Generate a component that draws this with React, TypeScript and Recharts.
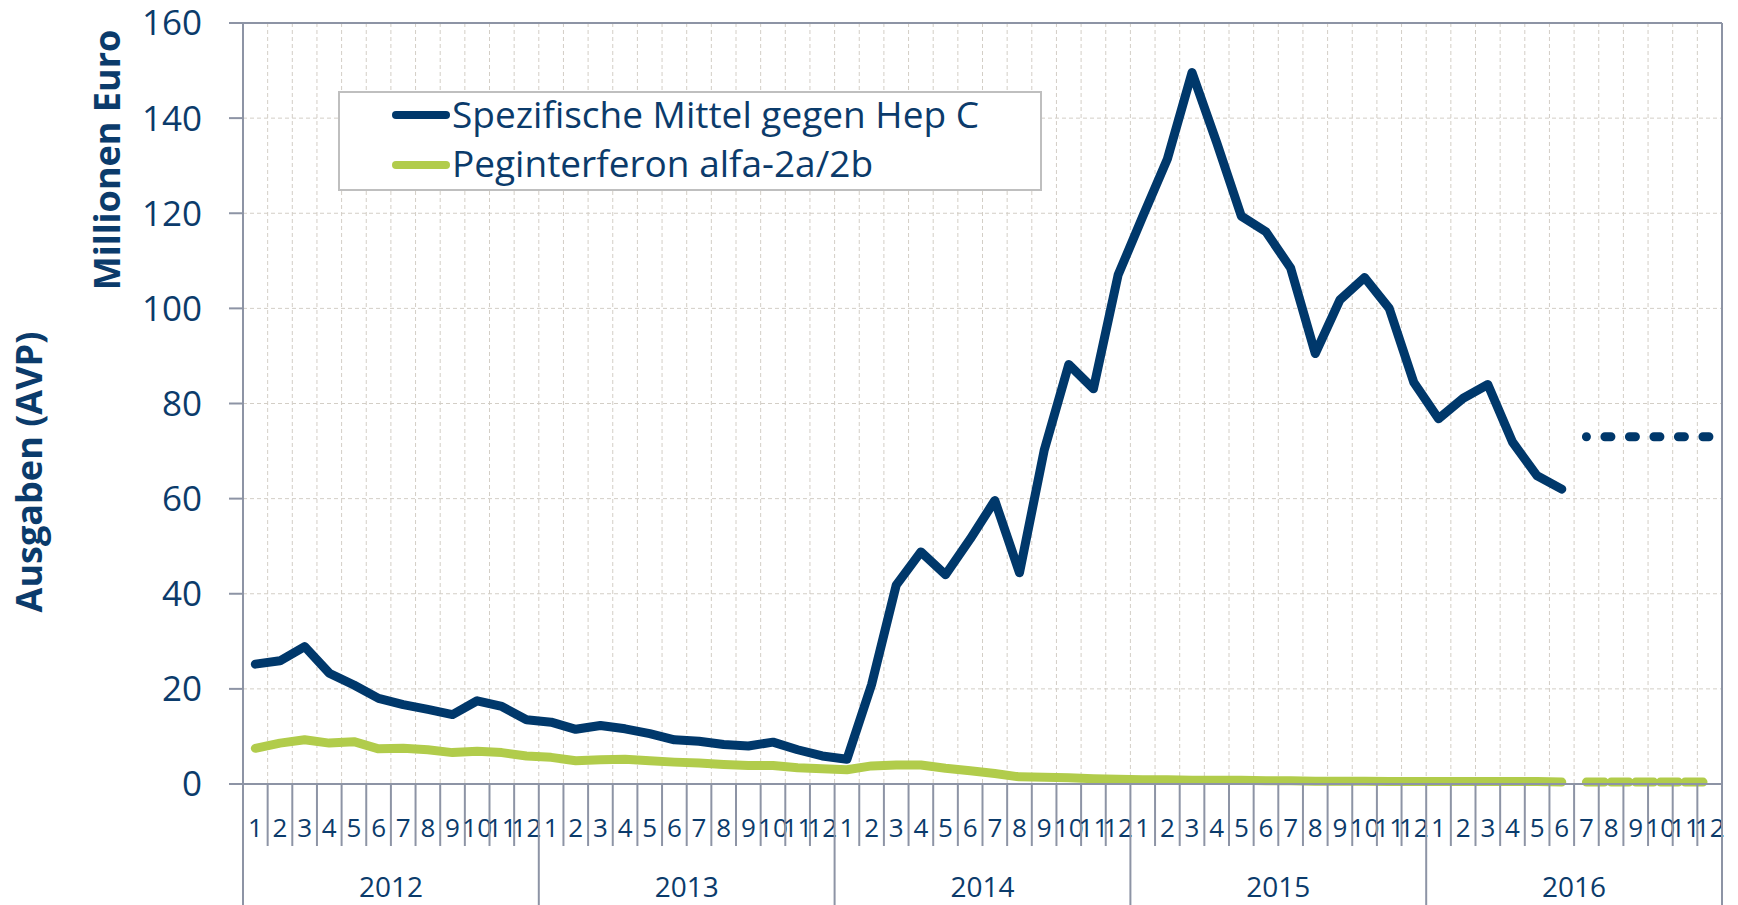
import React from 'react';
import {
  LineChart,
  Line,
  XAxis,
  YAxis,
  CartesianGrid,
  Legend,
  ReferenceLine,
} from 'recharts';

// Monatliche Ausgaben in Mio. Euro (AVP), Jan 2012 – Jun 2016
const years = ['2012', '2013', '2014', '2015', '2016'];
const monthLabels = ['1', '2', '3', '4', '5', '6', '7', '8', '9', '10', '11', '12'];

const hepC = [
  25.2, 25.9, 28.9, 23.3, 20.8, 18.0, 16.7, 15.7, 14.6, 17.5, 16.3, 13.5,
  13.0, 11.5, 12.3, 11.6, 10.6, 9.3, 9.0, 8.3, 8.0, 8.8, 7.2, 5.9,
  5.2, 20.9, 41.8, 48.8, 44.0, 51.5, 59.6, 44.4, 70.1, 88.2, 83.1, 107.0,
  119.3, 131.4, 149.6, 134.9, 119.4, 116.1, 108.5, 90.5, 101.8, 106.5, 100.0, 84.4,
  76.8, 81.1, 84.0, 71.9, 64.8, 62.0,
];
const peginterferon = [
  7.5, 8.6, 9.3, 8.6, 8.9, 7.4, 7.5, 7.2, 6.6, 6.9, 6.6, 5.9,
  5.6, 4.9, 5.1, 5.2, 4.9, 4.6, 4.4, 4.1, 3.9, 3.9, 3.4, 3.2,
  3.0, 3.8, 4.0, 4.0, 3.3, 2.8, 2.2, 1.5, 1.4, 1.3, 1.1, 1.0,
  0.9, 0.9, 0.8, 0.8, 0.8, 0.7, 0.7, 0.6, 0.6, 0.6, 0.5, 0.5,
  0.5, 0.5, 0.5, 0.5, 0.5, 0.4,
];
// Hochrechnung Jul – Dez 2016
const hepCOutlook = [73.0, 73.0, 73.0, 73.0, 73.0, 73.0];
const pegOutlook = [0.4, 0.4, 0.4, 0.4, 0.4, 0.4];

const seriesNames = ['Spezifische Mittel gegen Hep C', 'Peginterferon alfa-2a/2b'];
const yTicks = [0, 20, 40, 60, 80, 100, 120, 140, 160];

const NAVY = '#00386B';
const TEXT = '#0B3B6B';
const GREEN = '#B1CC4B';
const AXIS = '#8D94A5';
const GRID = '#D3CEC6';

const monthCount = years.length * 12;
const data = Array.from({ length: monthCount }, (_, i) => ({
  x: i + 0.5,
  hepC: i < hepC.length ? hepC[i] : null,
  peg: i < peginterferon.length ? peginterferon[i] : null,
  hepCOutlook: i >= hepC.length ? hepCOutlook[i - hepC.length] : null,
  pegOutlook: i >= peginterferon.length ? pegOutlook[i - peginterferon.length] : null,
}));

const boundaryTicks = Array.from({ length: monthCount + 1 }, (_, i) => i);
const axisTicks = Array.from({ length: monthCount * 2 + 1 }, (_, i) => i / 2);

function MonthTick(props: any) {
  const { x, y, payload } = props;
  const v = payload.value as number;
  if (Number.isInteger(v)) {
    const yearEdge = v % 12 === 0;
    return (
      <g>
        <line x1={x} x2={x} y1={y} y2={y + (yearEdge ? 121 : 62)} stroke={AXIS} strokeWidth={2} />
        {v % 12 === 6 && (
          <text x={x} y={y + 113} textAnchor="middle" fontSize={28} fill={TEXT}>
            {years[(v - 6) / 12]}
          </text>
        )}
      </g>
    );
  }
  return (
    <text x={x} y={y + 53} textAnchor="middle" fontSize={26} fill={TEXT}>
      {monthLabels[Math.floor(v) % 12]}
    </text>
  );
}

function YTitle() {
  return (
    <g>
      <text
        transform="translate(29, 472) rotate(-90)"
        textAnchor="middle"
        dy="0.36em"
        fontSize={36}
        fontWeight={700}
        fill={TEXT}
      >
        Ausgaben (AVP)
      </text>
      <text
        transform="translate(107, 160) rotate(-90)"
        textAnchor="middle"
        dy="0.36em"
        fontSize={36}
        fontWeight={700}
        fill={TEXT}
      >
        Millionen Euro
      </text>
    </g>
  );
}

function LegendBox(props: any) {
  const items = (props.payload || [])
    .filter((p: any) => p.type !== 'none' && seriesNames.includes(p.value))
    .sort((a: any, b: any) => seriesNames.indexOf(a.value) - seriesNames.indexOf(b.value));
  return (
    <svg width={704} height={100} style={{ display: 'block' }}>
      <rect x={1} y={1} width={702} height={98} fill="#fff" stroke="#BFBFBF" strokeWidth={2} />
      {items.map((p: any, i: number) => (
        <g key={p.value}>
          <line
            x1={58}
            x2={108}
            y1={24 + i * 50}
            y2={24 + i * 50}
            stroke={p.color}
            strokeWidth={8}
            strokeLinecap="round"
          />
          <text x={114} y={37 + i * 49} fontSize={37} fill={TEXT}>
            {p.value}
          </text>
        </g>
      ))}
    </svg>
  );
}

export default function App() {
  return (
    <div
      style={{
        position: 'absolute',
        left: 0,
        top: 0,
        width: 1738,
        height: 905,
        background: '#fff',
        fontFamily: "'Open Sans', sans-serif",
      }}
    >
      <LineChart width={1738} height={905} data={data} margin={{ top: 23, right: 16, bottom: 0, left: 0 }}>
        <XAxis
          xAxisId="g"
          orientation="top"
          dataKey="x"
          type="number"
          domain={[0, monthCount]}
          ticks={boundaryTicks}
          interval={0}
          height={0}
          hide
        />
        <CartesianGrid xAxisId="g" stroke={GRID} strokeDasharray="4 3" strokeWidth={1} />
        <XAxis
          xAxisId="m"
          dataKey="x"
          type="number"
          domain={[0, monthCount]}
          ticks={axisTicks}
          interval={0}
          height={121}
          tickSize={0}
          tickMargin={0}
          tickLine={false}
          axisLine={{ stroke: AXIS, strokeWidth: 2 }}
          tick={<MonthTick />}
        />
        <YAxis
          domain={[0, 160]}
          ticks={yTicks}
          interval={0}
          width={243}
          tickSize={14}
          tickMargin={27}
          tickLine={{ stroke: AXIS, strokeWidth: 2 }}
          axisLine={{ stroke: AXIS, strokeWidth: 2 }}
          tick={{ fontSize: 35, fill: TEXT }}
          label={<YTitle />}
        />
        <ReferenceLine xAxisId="m" y={160} stroke={AXIS} strokeWidth={2} />
        <ReferenceLine xAxisId="m" x={monthCount} stroke={AXIS} strokeWidth={2} />
        <Legend
          layout="vertical"
          align="center"
          verticalAlign="middle"
          wrapperStyle={{ left: 338, top: 91, width: 704, height: 100 }}
          content={<LegendBox />}
        />
        <Line
          xAxisId="m"
          dataKey="hepC"
          name={seriesNames[0]}
          stroke={NAVY}
          strokeWidth={9}
          strokeLinecap="round"
          strokeLinejoin="round"
          dot={false}
          activeDot={false}
          isAnimationActive={false}
        />
        <Line
          xAxisId="m"
          dataKey="peg"
          name={seriesNames[1]}
          stroke={GREEN}
          strokeWidth={9}
          strokeLinecap="round"
          strokeLinejoin="round"
          dot={false}
          activeDot={false}
          isAnimationActive={false}
        />
        <Line
          xAxisId="m"
          dataKey="hepCOutlook"
          legendType="none"
          stroke={NAVY}
          strokeWidth={9}
          strokeLinecap="round"
          strokeDasharray="0 18.5 6 0"
          dot={false}
          activeDot={false}
          isAnimationActive={false}
        />
        <Line
          xAxisId="m"
          dataKey="pegOutlook"
          legendType="none"
          stroke={GREEN}
          strokeWidth={9}
          strokeLinecap="round"
          strokeDasharray="18 6.65"
          dot={false}
          activeDot={false}
          isAnimationActive={false}
        />
      </LineChart>
    </div>
  );
}
